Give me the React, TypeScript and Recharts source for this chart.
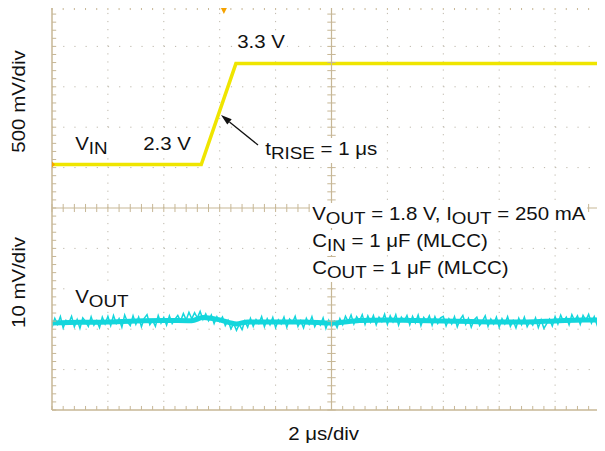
import type { ReactNode } from "react";
import { ComposedChart, Line, XAxis, YAxis, ReferenceLine, ReferenceDot } from "recharts";

// VIN line step: corners of the trace (µs, V)
const VIN_T = [-10, -4.66, -3.42, 10];
const VIN_V = [2.3, 2.3, 3.3, 3.3];

// slow wander of VOUT around 1.8 V (mV), with the bump and dip at the input step
const VOUT_LEVEL_T = [-10, -9, -8, -7, -6, -5, -4.6, -4, -3.4, -3, -2, -1, 0, 1, 2, 3, 4, 5, 6, 7, 8, 9, 10];
const VOUT_LEVEL_MV = [-0.25, -0.1, 0, 0.25, 0.35, 0.3, 1.1, 0.5, -0.5, 0, 0, 0, -0.25, 0.35, 0.5, 0.35, 0.25, 0.1, 0, 0, 0.25, 0.5, 0.5];

// VOUT ripple, one sample every 0.1 µs from -10 µs
const VOUT_SAMPLE_STEP = 0.1;
const VOUT_NOISE_MV = [
  -1.4, 0.9, -0.6, 1.3, -1.5, 0.4, -0.3, 1.4, -1.2, 0.6, -1.6, 1.0, 0.1, -1.1, 1.3, -0.8, 0.3, -1.4, 1.2, -0.5,
  1.4, -0.9, 1.6, -0.4, 0.8, -1.3, 1.7, 0.0, -0.9, 1.5, -0.6, 1.2, -1.2, 0.9, 1.8, -0.7, 0.4, -1.1, 1.6, -0.3,
  1.1, -0.8, 1.5, -0.4, 0.7, 1.6, 0.2, 2.1, 0.5, 2.4, 0.8, 2.3, 1.0, 2.6, 0.6, 2.0, 0.3, 1.7, -0.4, 1.3,
  0.1, 1.2, -0.9, 0.4, -1.7, -0.4, -2.1, -0.6, -1.9, 0.2, -1.3, 0.9, -1.1, 0.6, -0.4, 1.3, -1.2, 0.8, -0.7, 1.1,
  -1.4, 0.5, -0.5, 1.2, -1.3, 0.7, -0.2, 1.4, -1.1, 0.3, -1.5, 0.9, -0.6, 1.3, -1.2, 0.2, -0.8, 1.0, -1.6, 0.4,
  -1.2, 0.1, -1.4, 0.8, -0.7, 1.4, 0.0, 1.7, -0.5, 1.3, 0.2, 1.8, -0.6, 1.5, -0.1, 1.6, -0.7, 1.2, 0.1, 1.9,
  -0.6, 1.5, 0.0, 1.8, -0.8, 1.2, 0.2, 1.6, -0.7, 1.4, -0.2, 1.7, -0.9, 1.1, 0.1, 1.5, -0.8, 1.3, -0.4, 1.0,
  1.4, -1.0, 0.8, -0.5, 1.3, -1.2, 0.6, 1.6, -0.6, 0.9, -1.3, 0.5, 1.2, -0.9, 0.2, 1.5, -1.1, 0.7, -0.5, 1.2,
  -1.3, 0.8, -0.5, 1.3, -1.1, 0.3, -1.5, 0.9, -0.7, 1.2, -1.2, 0.2, -0.8, 1.0, -1.4, 0.5, -1.6, -0.4, 0.7, -1.0,
  1.3, -0.5, 1.7, 0.1, 1.2, -0.7, 1.8, 0.3, 1.5, -0.6, 1.6, 0.4, 1.9, -0.3, 1.3, -0.7, 1.7, 0.2, 1.5, -0.1, 1.2,
];

// trigger marks
const TRIGGER_T = -3.85;
const TRIGGER_V = 2.95;

// screen: 10 x 10 divisions, 2 µs/div across; VIN channel scale sets the rows
const VIN_LO = -0.13;
const VIN_HI = 3.87;
const V_PER_DIV = (VIN_HI - VIN_LO) / 10;
const divV = (d: number) => +(VIN_LO + (d + 5) * V_PER_DIV).toFixed(3);

const MAJOR_T = [-8, -6, -4, -2, 2, 4, 6, 8];
const MAJOR_DIV = [-4, -3, -2, -1, 1, 2, 3, 4];
const MINOR_T = Array.from({ length: 51 }, (_, i) => +(-10 + i * 0.4).toFixed(1));
const MINOR_DIV = Array.from({ length: 51 }, (_, i) => +(-5 + i * 0.2).toFixed(1));

const vinData = VIN_T.map((t, i) => ({ t, v: VIN_V[i] }));
const voutLevel = VOUT_LEVEL_T.map((t, i) => ({ t, mv: VOUT_LEVEL_MV[i] }));
const voutNoise = VOUT_NOISE_MV.map((mv, i) => ({ t: +(-10 + i * VOUT_SAMPLE_STEP).toFixed(2), mv }));

const FRAME = "#c7b796";
const DOTS = "#bdb7aa";
const YELLOW = "#efe500";
const CYAN = "#14d6dc";
const FONT = "'Liberation Sans', Arial, Helvetica, sans-serif";

// tick lengths in axis units (~4 px)
const TICK_V = 0.04;
const TICK_T = 0.15;

function Sub({ children }: { children: ReactNode }) {
  return <span style={{ fontSize: "0.92em", position: "relative", top: 4 }}>{children}</span>;
}

function Note({ left, baseline, children }: { left: number; baseline: number; children: ReactNode }) {
  return (
    <div
      style={{
        position: "absolute",
        left: left - 2,
        top: baseline - 17.4,
        padding: "0 2px 2px 2px",
        lineHeight: "22px",
        fontSize: 18.6,
        background: "#fff",
        whiteSpace: "nowrap",
        transform: "scaleX(1.1)",
        transformOrigin: "left center",
        color: "#111",
      }}
    >
      {children}
    </div>
  );
}

export default function App() {
  const top = divV(5);
  const bottom = divV(-5);
  const mid = divV(0);
  return (
    <div
      style={{
        position: "relative",
        width: 605,
        height: 451,
        margin: -8,
        overflow: "hidden",
        background: "#fff",
        fontFamily: FONT,
      }}
    >
      <ComposedChart width={620} height={451} margin={{ top: 6, right: 9, bottom: 41, left: 52 }}>
        <XAxis type="number" dataKey="t" domain={[-10, 10]} allowDataOverflow hide />
        <YAxis yAxisId="vin" type="number" domain={[VIN_LO, VIN_HI]} allowDataOverflow hide />
        <YAxis yAxisId="vout" type="number" domain={[-21.8, 78.2]} allowDataOverflow hide />

        {/* dotted graticule */}
        {MAJOR_DIV.map((d) => (
          <ReferenceLine key={`h${d}`} yAxisId="vin" y={divV(d)} stroke={DOTS} strokeDasharray="1.2 9.98" />
        ))}
        {MAJOR_T.map((t) => (
          <ReferenceLine key={`v${t}`} yAxisId="vin" x={t} stroke={DOTS} strokeDasharray="1.2 6.88" />
        ))}

        {/* traces */}
        <Line
          yAxisId="vin"
          data={vinData}
          dataKey="v"
          type="linear"
          stroke={YELLOW}
          strokeWidth={3.5}
          dot={false}
          isAnimationActive={false}
        />
        <Line
          yAxisId="vout"
          data={voutLevel}
          dataKey="mv"
          type="monotone"
          stroke={CYAN}
          strokeWidth={5}
          dot={false}
          isAnimationActive={false}
        />
        <Line
          yAxisId="vout"
          data={voutNoise}
          dataKey="mv"
          type="linear"
          stroke={CYAN}
          strokeWidth={1.5}
          dot={false}
          isAnimationActive={false}
        />

        {/* frame and centre cross */}
        <ReferenceLine yAxisId="vin" y={top} stroke={FRAME} strokeWidth={1.5} />
        <ReferenceLine yAxisId="vin" y={bottom} stroke={FRAME} strokeWidth={1.5} />
        <ReferenceLine yAxisId="vin" x={-10} stroke={FRAME} strokeWidth={1.5} />
        <ReferenceLine yAxisId="vin" x={10} stroke={FRAME} strokeWidth={1.5} />
        <ReferenceLine yAxisId="vin" y={mid} stroke={FRAME} strokeWidth={1.2} />
        <ReferenceLine yAxisId="vin" x={0} stroke={FRAME} strokeWidth={1.2} />

        {/* minor ticks along the frame and the centre cross */}
        {MINOR_T.map((t) => (
          <ReferenceLine key={`tt${t}`} yAxisId="vin" segment={[{ x: t, y: top }, { x: t, y: top - TICK_V }]} stroke={FRAME} />
        ))}
        {MINOR_T.map((t) => (
          <ReferenceLine key={`tb${t}`} yAxisId="vin" segment={[{ x: t, y: bottom }, { x: t, y: bottom + TICK_V }]} stroke={FRAME} />
        ))}
        {MINOR_T.map((t) => (
          <ReferenceLine key={`tc${t}`} yAxisId="vin" segment={[{ x: t, y: mid - TICK_V }, { x: t, y: mid + TICK_V }]} stroke={FRAME} />
        ))}
        {MINOR_DIV.map((d) => (
          <ReferenceLine key={`dl${d}`} yAxisId="vin" segment={[{ x: -10, y: divV(d) }, { x: -10 + TICK_T, y: divV(d) }]} stroke={FRAME} />
        ))}
        {MINOR_DIV.map((d) => (
          <ReferenceLine key={`dr${d}`} yAxisId="vin" segment={[{ x: 10, y: divV(d) }, { x: 10 - TICK_T, y: divV(d) }]} stroke={FRAME} />
        ))}
        {MINOR_DIV.map((d) => (
          <ReferenceLine key={`dc${d}`} yAxisId="vin" segment={[{ x: -TICK_T, y: divV(d) }, { x: TICK_T, y: divV(d) }]} stroke={FRAME} />
        ))}

        {/* trigger position, trigger level, channel mark */}
        <ReferenceDot
          yAxisId="vin"
          x={TRIGGER_T}
          y={top}
          ifOverflow="visible"
          shape={(p: { cx: number; cy: number }) => (
            <polygon points={`${p.cx - 3.5},${p.cy + 1} ${p.cx + 3.5},${p.cy + 1} ${p.cx},${p.cy + 8}`} fill="#f5a200" />
          )}
        />
        <ReferenceDot
          yAxisId="vin"
          x={10}
          y={TRIGGER_V}
          ifOverflow="visible"
          shape={(p: { cx: number; cy: number }) => (
            <g>
              <polygon points={`${p.cx - 14},${p.cy} ${p.cx - 7},${p.cy - 4} ${p.cx - 7},${p.cy + 4}`} fill="#f4ec00" />
              <line x1={p.cx - 8} y1={p.cy} x2={p.cx} y2={p.cy} stroke="#f4ec00" strokeWidth={2} />
            </g>
          )}
        />
        <ReferenceDot
          yAxisId="vin"
          x={-10}
          y={VIN_V[0]}
          ifOverflow="visible"
          shape={(p: { cx: number; cy: number }) => (
            <polygon points={`${p.cx},${p.cy - 3} ${p.cx + 3},${p.cy} ${p.cx},${p.cy + 3}`} fill="#f5a200" />
          )}
        />
      </ComposedChart>

      <svg
        width={605}
        height={451}
        style={{ position: "absolute", left: 0, top: 0, pointerEvents: "none", fontFamily: FONT }}
      >
        <g transform="translate(25,101.5) rotate(-90) scale(1.1,1)">
          <text x={0} y={0} textAnchor="middle" fontSize={18.6} fill="#111">
            500 mV/div
          </text>
        </g>
        <g transform="translate(25,282.5) rotate(-90) scale(1.1,1)">
          <text x={0} y={0} textAnchor="middle" fontSize={18.6} fill="#111">
            10 mV/div
          </text>
        </g>
      </svg>

      <Note left={75} baseline={150}>
        V<Sub>IN</Sub>
      </Note>
      <Note left={143} baseline={150}>
        2.3 V
      </Note>
      <Note left={237} baseline={48.5}>
        3.3 V
      </Note>
      <Note left={265} baseline={155}>
        t<Sub>RISE</Sub> = 1 μs
      </Note>
      <Note left={312} baseline={220}>
        V<Sub>OUT</Sub> = 1.8 V, I<Sub>OUT</Sub> = 250 mA
      </Note>
      <Note left={312} baseline={247.5}>
        C<Sub>IN</Sub> = 1 μF (MLCC)
      </Note>
      <Note left={312} baseline={274}>
        C<Sub>OUT</Sub> = 1 μF (MLCC)
      </Note>
      <Note left={75} baseline={303}>
        V<Sub>OUT</Sub>
      </Note>
      <Note left={288} baseline={440}>
        2 μs/div
      </Note>

      <svg width={605} height={451} style={{ position: "absolute", left: 0, top: 0, pointerEvents: "none" }}>
        <line x1={258} y1={145} x2={229.5} y2={121.9} stroke="#111" strokeWidth={1.3} />
        <polygon points="221,115 231.7,119.2 227.3,124.6" fill="#111" />
      </svg>
    </div>
  );
}
